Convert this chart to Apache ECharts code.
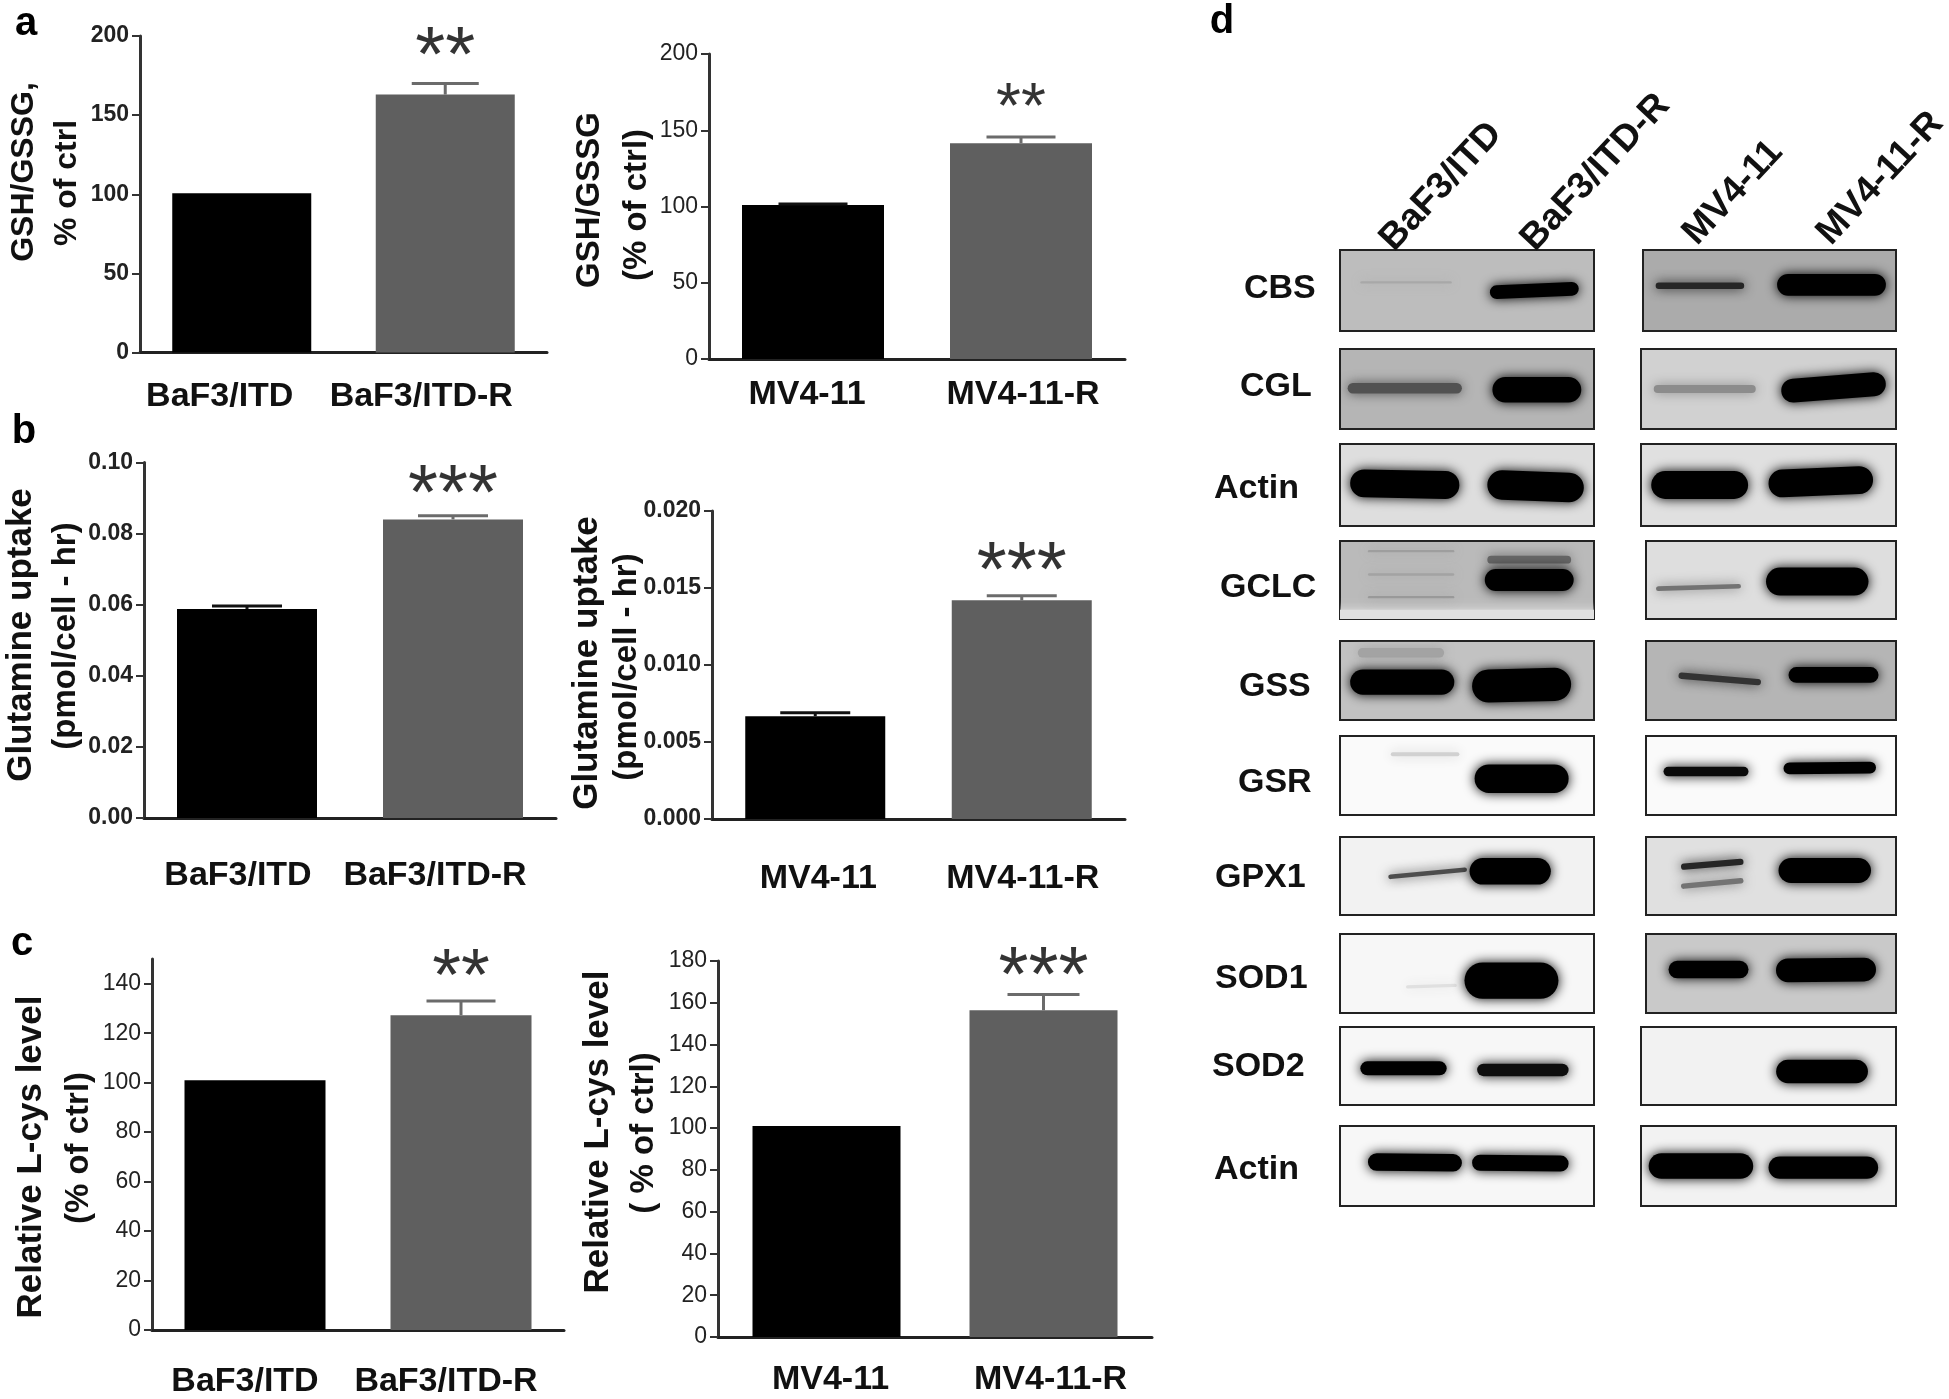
<!DOCTYPE html>
<html>
<head>
<meta charset="utf-8">
<style>
  html, body { margin: 0; padding: 0; background: #fff; }
  #main { width: 1949px; height: 1399px; filter: blur(0.6px); }
</style>
<script src="https://cdn.jsdelivr.net/npm/echarts@6/dist/echarts.min.js"></script>
</head>
<body>
<div id="main"></div>
<script>
// bar data, one set per panel
var baf3Cats = ["BaF3/ITD", "BaF3/ITD-R"];
var mv4Cats = ["MV4-11", "MV4-11-R"];

var gshBaf3 = [100.6, 163];
var gshBaf3Err = [null, 170];
var gshBaf3Ticks = ["0", "50", "100", "150", "200"];
var gshMv4 = [101, 141.5];
var gshMv4Err = [101.6, 145.5];
var gshMv4Ticks = ["0", "50", "100", "150", "200"];

var glnBaf3 = [0.0588, 0.084];
var glnBaf3Err = [0.0596, 0.085];
var glnBaf3Ticks = ["0.00", "0.02", "0.04", "0.06", "0.08", "0.10"];
var glnMv4 = [0.00667, 0.0142];
var glnMv4Err = [0.0069, 0.0145];
var glnMv4Ticks = ["0.000", "0.005", "0.010", "0.015", "0.020"];

var cysBaf3 = [101, 127.3];
var cysBaf3Err = [null, 133];
var cysBaf3Ticks = ["0", "20", "40", "60", "80", "100", "120", "140"];
var cysMv4 = [101, 156.4];
var cysMv4Err = [null, 164];
var cysMv4Ticks = ["0", "20", "40", "60", "80", "100", "120", "140", "160", "180"];

// significance marks: text and the y value they sit at
var starText = ["**", "**", "***", "***", "**", "***"];
var starLevel = [196, 173, 0.0952, 0.017, 148.7, 179.6];

// western blots. each band: lane start, lane end, y start, y end, height, intensity (panel %)
var blotRows = ["CBS", "CGL", "Actin", "GCLC", "GSS", "GSR", "GPX1", "SOD1", "SOD2", "Actin"];
var laneLabels = ["BaF3/ITD", "BaF3/ITD-R", "MV4-11", "MV4-11-R"];
var bgLeft = [0.26, 0.29, 0.13, 0.27, 0.24, 0.02, 0.05, 0.03, 0.03, 0.03];
var bgRight = [0.33, 0.18, 0.12, 0.13, 0.29, 0.02, 0.12, 0.21, 0.05, 0.05];
var bandsLeft = [
  [[8, 44, 40, 40, 3, 0.34], [59, 94, 52, 48, 17, 1]],
  [[3, 48, 49, 49, 13, 0.68], [60, 95, 51, 51, 32, 1]],
  [[4, 47, 48, 50, 34, 1], [58, 96, 50, 53, 36, 1]],
  [[-10, 110, 95, 95, 14, 0.12], [11, 45, 13, 13, 3, 0.38], [11, 45, 43, 43, 3, 0.36], [11, 45, 72, 72, 3, 0.4], [58, 91, 24, 24, 10, 0.6], [57, 92, 50, 50, 28, 1]],
  [[7, 41, 15, 15, 12, 0.36], [4, 45, 52, 52, 32, 1], [52, 91, 57, 55, 42, 1]],
  [[20, 47, 23, 23, 5, 0.18], [53, 90, 54, 54, 36, 1]],
  [[19, 50, 51, 42, 6, 0.7], [51, 83, 44, 44, 34, 1]],
  [[26, 46, 67, 65, 4, 0.12], [49, 86, 59, 59, 46, 1]],
  [[8, 42, 53, 53, 18, 1], [54, 90, 55, 55, 16, 0.95]],
  [[11, 48, 45, 46, 22, 1], [52, 90, 46, 47, 20, 1]]
];
var bandsRight = [
  [[5, 40, 44, 44, 8, 0.85], [53, 96, 43, 43, 27, 1]],
  [[5, 45, 50, 50, 10, 0.45], [55, 96, 52, 44, 30, 1]],
  [[4, 42, 50, 50, 34, 1], [50, 91, 48, 44, 34, 1]],
  [[4, 38, 61, 58, 6, 0.55], [48, 89, 52, 52, 36, 1]],
  [[13, 46, 44, 52, 8, 0.8], [57, 93, 43, 43, 20, 1]],
  [[7, 41, 45, 45, 12, 0.96], [55, 92, 41, 40, 15, 1]],
  [[14, 39, 38, 32, 8, 0.85], [14, 39, 63, 56, 7, 0.55], [53, 90, 43, 43, 32, 1]],
  [[9, 41, 45, 45, 22, 1], [52, 92, 46, 45, 30, 1]],
  [[53, 89, 57, 57, 30, 1]],
  [[3, 44, 50, 50, 32, 1], [50, 93, 52, 52, 28, 1]]
];

var FONT = '"Liberation Sans", Arial, sans-serif';
var barColors = ["#000000", "#5f5f5f"];
var capColors = ["#111111", "#6b6b6b"];

// layout of the six bar panels, in page pixels
var panels = [
  { left: 140, right: 547, top: 36, bottom: 352.5, cats: baf3Cats, vals: gshBaf3, err: gshBaf3Err, ticks: gshBaf3Ticks, max: 200,
    barW: 139, capW: 67, margin: 27, shift: [-22, -24], tickW: "bold", starSize: 77 },
  { left: 709, right: 1125, top: 54, bottom: 359, cats: mv4Cats, vals: gshMv4, err: gshMv4Err, ticks: gshMv4Ticks, max: 200,
    barW: 142, capW: 69, margin: 19, shift: [-6, 2], tickW: "normal", starSize: 64 },
  { left: 144, right: 556, top: 462.5, bottom: 818, cats: baf3Cats, vals: glnBaf3, err: glnBaf3Err, ticks: glnBaf3Ticks, max: 0.1,
    barW: 140, capW: 70, margin: 41, shift: [-9, -18], tickW: "bold", starSize: 77 },
  { left: 712, right: 1125, top: 511, bottom: 819, cats: mv4Cats, vals: glnMv4, err: glnMv4Err, ticks: glnMv4Ticks, max: 0.02,
    barW: 140, capW: 70, margin: 43, shift: [3, 1], tickW: "bold", starSize: 77 },
  { left: 152, right: 564, top: 959, bottom: 1338, cats: baf3Cats, vals: cysBaf3, err: cysBaf3Err, ticks: cysBaf3Ticks, max: 150,
    barW: 141, capW: 69, margin: 35, shift: [-10, -15], tickW: "normal", starSize: 74 },
  { left: 718, right: 1152, top: 961, bottom: 1337, cats: mv4Cats, vals: cysMv4, err: cysMv4Err, ticks: cysMv4Ticks, max: 180,
    barW: 148, capW: 72, margin: 26, shift: [4, 7], tickW: "normal", starSize: 77 }
];

// blot panel rectangles
var rowTop = [250, 349, 444, 541, 641, 736, 837, 934, 1027, 1126];
var rowBottom = [331, 429, 526, 619, 720, 815, 915, 1013, 1105, 1206];
var rightLeft = [1643, 1641, 1641, 1646, 1646, 1646, 1646, 1646, 1641, 1641];
var rowLabelX = [1244, 1240, 1214, 1220, 1239, 1238, 1215, 1215, 1212, 1214];
var rowLabelY = [289, 387, 489, 588, 687, 783, 878, 979, 1067, 1170];

var grids = [], xAxes = [], yAxes = [], series = [], graphics = [];

function toGray(level) {
  var g = Math.round(255 * (1 - level));
  return "rgb(" + g + "," + g + "," + g + ")";
}

function errorItem(params, api) {
  var low = api.coord([api.value(0), api.value(1)]);
  var high = api.coord([api.value(0), api.value(2)]);
  var half = api.value(3) / 2;
  var color = capColors[api.value(0)];
  var lineStyle = { stroke: color, lineWidth: 3 };
  return {
    type: "group",
    children: [
      { type: "line", shape: { x1: low[0], y1: low[1], x2: high[0], y2: high[1] }, style: lineStyle },
      { type: "line", shape: { x1: high[0] - half, y1: high[1], x2: high[0] + half, y2: high[1] }, style: lineStyle }
    ]
  };
}

function bandItem(params, api) {
  var a = api.coord([api.value(0), api.value(2)]);
  var b = api.coord([api.value(1), api.value(3)]);
  var w = api.size([0, api.value(4)])[1];
  var color = toGray(api.value(5));
  return {
    type: "line",
    shape: { x1: a[0] + w / 2, y1: a[1], x2: b[0] - w / 2, y2: b[1] },
    style: { stroke: color, lineWidth: w, lineCap: "round", shadowBlur: 12, shadowColor: color }
  };
}

panels.forEach(function (p, i) {
  var idx = grids.length;
  var tickValues = p.ticks.map(Number);
  grids.push({ left: p.left, top: p.top, width: p.right - p.left, height: p.bottom - p.top });
  xAxes.push({
    gridIndex: idx,
    type: "category",
    data: p.cats.map(function (c, k) {
      var s = p.shift[k];
      return { value: c, textStyle: { padding: s < 0 ? [0, -2 * s, 0, 0] : [0, 0, 0, 2 * s] } };
    }),
    axisLine: { lineStyle: { color: "#222", width: 3 } },
    axisTick: { alignWithLabel: true, length: 9, lineStyle: { color: "#333", width: 2 } },
    axisLabel: { interval: 0, margin: p.margin, fontFamily: FONT, fontWeight: "bold", fontSize: 34, color: "#111" }
  });
  yAxes.push({
    gridIndex: idx,
    type: "value",
    min: 0,
    max: p.max,
    splitLine: { show: false },
    axisLine: { show: true, onZero: false, lineStyle: { color: "#333", width: 3 } },
    axisTick: { show: true, length: 8, customValues: tickValues, lineStyle: { color: "#333", width: 2 } },
    axisLabel: {
      margin: 11,
      customValues: tickValues,
      formatter: function (v) { return p.ticks[tickValues.indexOf(v)]; },
      fontFamily: FONT,
      fontWeight: p.tickW,
      fontSize: 23,
      color: "#222"
    }
  });
  series.push({
    type: "bar",
    xAxisIndex: idx,
    yAxisIndex: idx,
    barWidth: p.barW,
    data: p.vals.map(function (v, k) { return { value: v, itemStyle: { color: barColors[k] } }; }),
    silent: true
  });
  var errData = [];
  p.err.forEach(function (e, k) {
    if (e !== null) errData.push([k, p.vals[k], e, p.capW]);
  });
  series.push({
    type: "custom",
    xAxisIndex: idx,
    yAxisIndex: idx,
    renderItem: errorItem,
    encode: { x: 0, y: [1, 2] },
    data: errData,
    silent: true,
    z: 3
  });
  series.push({
    type: "scatter",
    xAxisIndex: idx,
    yAxisIndex: idx,
    symbolSize: 1,
    itemStyle: { color: "transparent" },
    data: [[1, starLevel[i]]],
    label: {
      show: true,
      position: "inside",
      formatter: starText[i],
      fontFamily: FONT,
      fontWeight: "normal",
      fontSize: p.starSize,
      color: "#000",
      offset: [0, 0.23 * p.starSize]
    },
    silent: true,
    z: 4
  });
});

function addBlot(left, right, top, bottom, bg, bands) {
  var idx = grids.length;
  grids.push({
    show: true,
    left: left,
    top: top,
    width: right - left,
    height: bottom - top,
    backgroundColor: toGray(bg),
    borderColor: "#222",
    borderWidth: 2
  });
  xAxes.push({ gridIndex: idx, type: "value", min: 0, max: 100, show: false });
  yAxes.push({ gridIndex: idx, type: "value", min: 0, max: 100, inverse: true, show: false });
  series.push({
    type: "custom",
    xAxisIndex: idx,
    yAxisIndex: idx,
    renderItem: bandItem,
    clip: true,
    encode: { x: [0, 1], y: [2, 3] },
    data: bands,
    silent: true
  });
}

blotRows.forEach(function (name, r) {
  addBlot(1340, 1594, rowTop[r], rowBottom[r], bgLeft[r], bandsLeft[r]);
  addBlot(rightLeft[r], 1896, rowTop[r], rowBottom[r], bgRight[r], bandsRight[r]);
  graphics.push({
    type: "text",
    x: rowLabelX[r],
    y: rowLabelY[r],
    style: { text: name, font: "bold 34px " + FONT, fill: "#111", textAlign: "left", textVerticalAlign: "middle" }
  });
});

// axis titles: text, centre x, centre y, font size
var axisTitles = [
  ["GSH/GSSG,", 24, 172, 32], ["% of ctrl", 67, 183, 32],
  ["GSH/GSSG", 590, 200, 33], ["(% of ctrl)", 637, 205, 33],
  ["Glutamine uptake", 21, 635, 35], ["(pmol/cell - hr)", 66, 636, 33],
  ["Glutamine uptake", 587, 663, 35], ["(pmol/cell - hr)", 627, 667, 33],
  ["Relative L-cys level", 31, 1157, 35], ["(% of ctrl)", 79, 1148, 33],
  ["Relative L-cys level", 598, 1132, 35], ["( % of ctrl)", 644, 1133, 33]
];
axisTitles.forEach(function (t) {
  graphics.push({
    type: "text",
    x: t[1],
    y: t[2],
    rotation: Math.PI / 2,
    style: { text: t[0], font: "bold " + t[3] + "px " + FONT, fill: "#111", textAlign: "center", textVerticalAlign: "middle" }
  });
});

// panel letters
[["a", 26, 24], ["b", 24, 432], ["c", 22, 944], ["d", 1222, 22]].forEach(function (t) {
  graphics.push({
    type: "text",
    x: t[1],
    y: t[2],
    style: { text: t[0], font: "bold 40px " + FONT, fill: "#000", textAlign: "center", textVerticalAlign: "middle" }
  });
});

// lane labels over the blots
[[1400, 258], [1541, 258], [1703, 252], [1837, 252]].forEach(function (pos, k) {
  graphics.push({
    type: "text",
    x: pos[0],
    y: pos[1],
    rotation: 47 * Math.PI / 180,
    style: { text: laneLabels[k], font: "bold 37px " + FONT, fill: "#111", textAlign: "left", textVerticalAlign: "bottom" }
  });
});

var myChart = echarts.init(document.getElementById("main"));
myChart.setOption({
  animation: false,
  backgroundColor: "#fff",
  grid: grids,
  xAxis: xAxes,
  yAxis: yAxes,
  series: series,
  graphic: { elements: graphics }
});
</script>
</body>
</html>
